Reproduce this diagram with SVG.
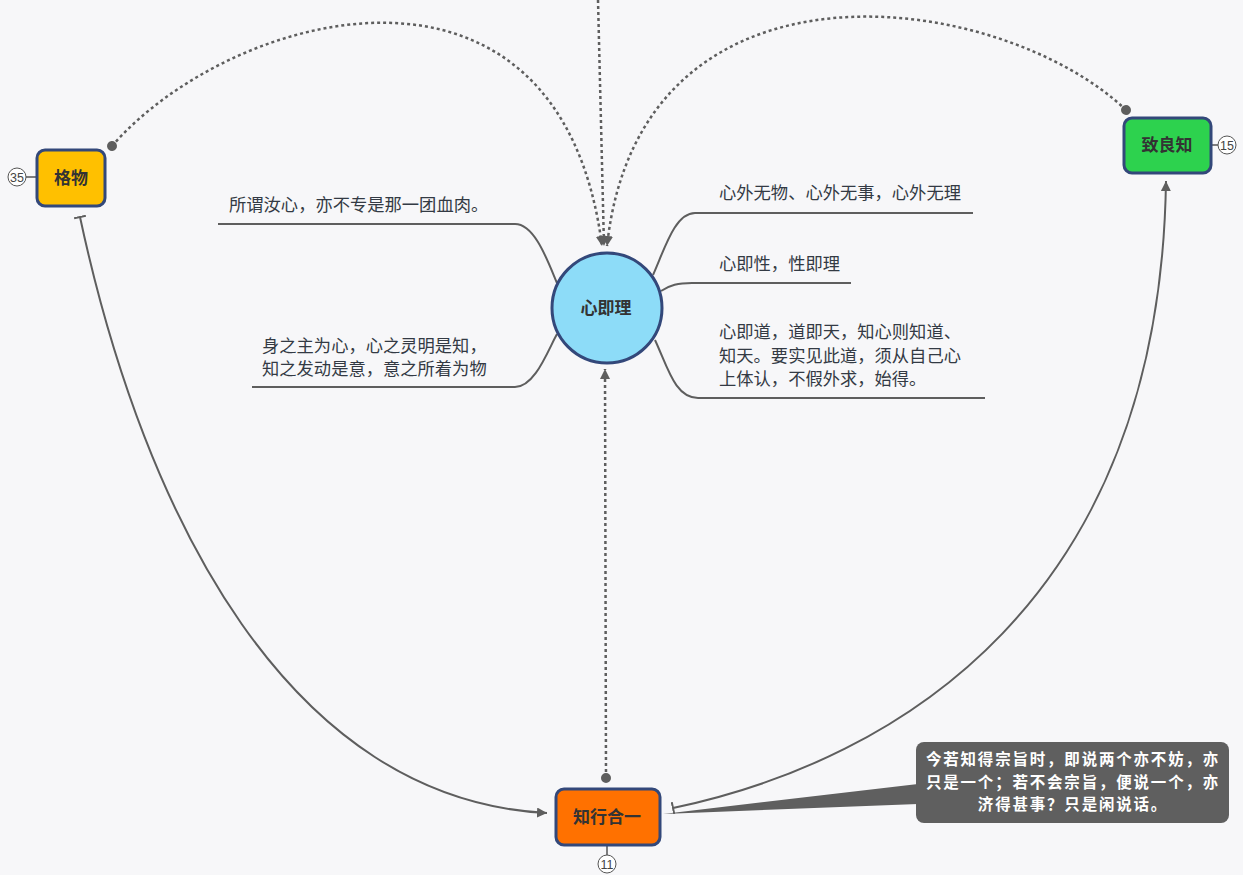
<svg xmlns="http://www.w3.org/2000/svg" width="1243" height="875" viewBox="0 0 1243 875">
<defs>
<style>
.bg{fill:#f7f7f9}
.node{stroke:#33487a;stroke-width:3}
.lbl{font-family:"Noto Sans CJK SC","Liberation Sans",sans-serif;font-size:17px;font-weight:bold;fill:#333;text-anchor:middle}
.txt{font-family:"Noto Sans CJK SC","Liberation Sans",sans-serif;font-size:17.3px;fill:#333a44}
.call{font-family:"Noto Sans CJK SC","Liberation Sans",sans-serif;font-size:15.5px;letter-spacing:1.8px;font-weight:bold;fill:#fff;text-anchor:middle}
.br{fill:none;stroke:#5e5e5e;stroke-width:2}
.rel{fill:none;stroke:#5e5e5e;stroke-width:2}
.dash{fill:none;stroke:#5e5e5e;stroke-width:2.5;stroke-dasharray:3 3}
.badge{fill:#fff;stroke:#555;stroke-width:1}
.bt{font-family:"Liberation Sans",sans-serif;font-size:12.5px;fill:#444;text-anchor:middle}
</style>
<marker id="arrow" markerUnits="userSpaceOnUse" markerWidth="12" markerHeight="10" refX="10" refY="5" orient="auto"><path d="M0,0 L10,5 L0,10 Z" fill="#5e5e5e"/></marker>
<marker id="dot" markerUnits="userSpaceOnUse" markerWidth="12" markerHeight="12" refX="6" refY="6" orient="auto"><circle cx="6" cy="6" r="5" fill="#5e5e5e"/></marker>
<marker id="tbar" markerUnits="userSpaceOnUse" markerWidth="4" markerHeight="12" refX="1" refY="6" orient="auto"><path d="M1,0 L1,12" stroke="#5e5e5e" stroke-width="2"/></marker>
</defs>
<rect class="bg" x="0" y="0" width="1243" height="875"/>

<g id="connectors">
<path class="dash" d="M598,0 L604,246" marker-end="url(#arrow)"/>
<path class="dash" d="M112,146 C230,10 560,-80 602,246" marker-start="url(#dot)" marker-end="url(#arrow)"/>
<path class="dash" d="M1126,110 C1000,-10 640,-60 607,246" marker-start="url(#dot)" marker-end="url(#arrow)"/>
<path class="dash" d="M606,778 L605,369" marker-start="url(#dot)" marker-end="url(#arrow)"/>
<path class="rel" d="M80,217 C145,520 290,800 547,813" marker-start="url(#tbar)" marker-end="url(#arrow)"/>
<path class="rel" d="M673,808 C900,760 1160,600 1166,181" marker-start="url(#tbar)" marker-end="url(#arrow)"/>
<path class="br" d="M218,224 L515,224 C535,224 548,262 557,283"/>
<path class="br" d="M252,387 L515,387 C535,387 548,350 557,334"/>
<path class="br" d="M653,275 C665,248 675,213 695,213 L973,213"/>
<path class="br" d="M661,291 C670,285 678,283 692,283 L851,283"/>
<path class="br" d="M655,340 C668,368 675,398 698,398 L985,398"/>
</g>

<g id="n-xinjili">
<circle class="node" cx="607" cy="308" r="55" fill="#8ddcf8"/>
<text class="lbl" x="606" y="314">心即理</text>
</g>

<g id="n-gewu">
<line x1="26" y1="177" x2="37" y2="177" stroke="#555" stroke-width="1.5"/>
<circle class="badge" cx="17" cy="177" r="9"/>
<text class="bt" x="17" y="181.5">35</text>
<rect class="node" x="37" y="150" width="68" height="56" rx="8" fill="#ffc000"/>
<text class="lbl" x="71" y="184">格物</text>
</g>

<g id="n-zhiliangzhi">
<line x1="1211" y1="145" x2="1218" y2="145" stroke="#555" stroke-width="1.5"/>
<circle class="badge" cx="1227" cy="145" r="9"/>
<text class="bt" x="1227" y="149.5">15</text>
<rect class="node" x="1124" y="118" width="87" height="55" rx="8" fill="#2dd24e"/>
<text class="lbl" x="1167" y="151">致良知</text>
</g>

<g id="n-zhixingheyi">
<line x1="607" y1="845" x2="607" y2="855" stroke="#555" stroke-width="1.5"/>
<circle class="badge" cx="607" cy="864" r="9"/>
<text class="bt" x="607" y="868.5">11</text>
<rect class="node" x="556" y="789" width="104" height="56" rx="8" fill="#ff7100"/>
<text class="lbl" x="607" y="823">知行合一</text>
</g>

<g id="t-left1"><text class="txt" x="229" y="211">所谓汝心，亦不专是那一团血肉。</text></g>
<g id="t-left2"><text class="txt" x="262" y="352">身之主为心，心之灵明是知，</text><text class="txt" x="262" y="375">知之发动是意，意之所着为物</text></g>
<g id="t-right1"><text class="txt" x="719" y="199">心外无物、心外无事，心外无理</text></g>
<g id="t-right2"><text class="txt" x="719" y="270">心即性，性即理</text></g>
<g id="t-right3"><text class="txt" x="719" y="338">心即道，道即天，知心则知道、</text><text class="txt" x="719" y="362">知天。要实见此道，须从自己心</text><text class="txt" x="719" y="385">上体认，不假外求，始得。</text></g>

<g id="callout">
<polygon points="663,814 918,784 918,804" fill="#5f5f5f"/>
<rect x="916" y="742" width="313" height="81" rx="8" fill="#5f5f5f"/>
<text class="call" x="1073" y="765">今若知得宗旨时，即说两个亦不妨，亦</text>
<text class="call" x="1073" y="787.5">只是一个；若不会宗旨，便说一个，亦</text>
<text class="call" x="1073" y="810">济得甚事？只是闲说话。</text>
</g>
</svg>
